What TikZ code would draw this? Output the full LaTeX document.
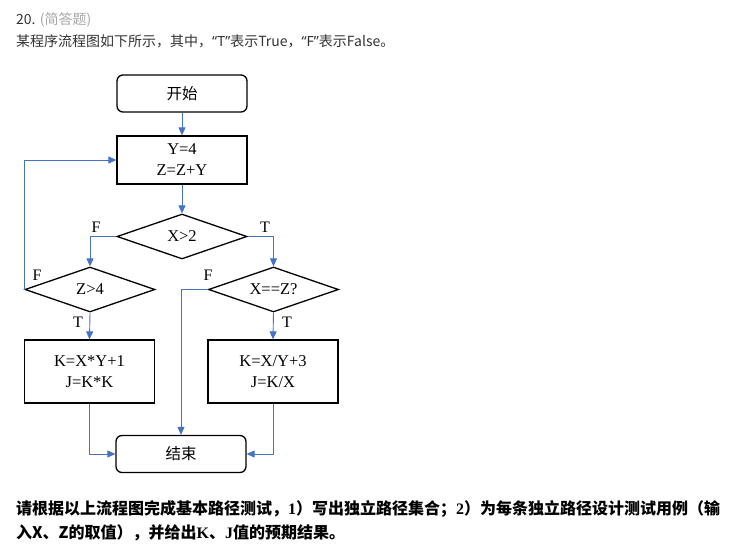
\documentclass[tikz,border=0pt]{standalone}
\usepackage{fontspec}
\setmainfont{Liberation Serif}
\newfontfamily\cjk{Noto Sans CJK SC}
\newfontfamily\hsans{Noto Sans}
\usetikzlibrary{shapes.geometric,arrows.meta}
\definecolor{conncol}{HTML}{4472C4}
\definecolor{txtdark}{HTML}{333333}
\definecolor{txtgray}{HTML}{A8A8A8}
\tikzset{
  boxstyle/.style={draw=black,line width=1.3pt,minimum width=130pt,minimum height=48pt,inner sep=0pt,align=center,font=\fontsize{16.5}{21}\selectfont},
  termstyle/.style={draw=black,line width=1.3pt,rounded corners=6pt,minimum width=130pt,minimum height=37pt,inner sep=0pt,font=\cjk\fontsize{15.5}{18}\selectfont},
  decstyle/.style={draw=black,line width=1.3pt,diamond,aspect=2.9,minimum width=130pt,minimum height=45pt,inner sep=0pt,font=\fontsize{16.5}{18}\selectfont},
  conn/.style={draw=conncol,line width=0.9pt,-{Triangle[length=8pt,width=7pt]}},
  lbl/.style={font=\fontsize{16}{18}\selectfont,inner sep=0pt}
}
\begin{document}
\begin{tikzpicture}[x=1pt,y=-1pt]
\useasboundingbox[fill=white] (0,0) rectangle (732,549);
% header
\node[anchor=west,inner sep=0pt,font=\cjk\fontsize{14}{16}\selectfont] (hnum) at (16,19.5) {\textcolor{txtdark}{20.} \textcolor{txtgray}{(简答题)}};
\node[anchor=west,inner sep=0pt,font=\cjk\fontsize{14}{16}\selectfont,text=txtdark] (hline) at (16,41) {某程序流程图如下所示，其中，{\hsans “T”}表示True，{\hsans “F”}表示False。};
% flowchart
\node[termstyle] (start) at (182,93.5) {开始};
\node[boxstyle] (init) at (182,160) {Y=4\\Z=Z+Y};
\node[decstyle] (dx) at (182,236.5) {X>2};
\node[decstyle] (dz) at (90,289.5) {Z>4};
\node[decstyle] (dxz) at (273.5,289.5) {X==Z?};
\node[boxstyle,minimum height=63pt] (bl) at (89.5,371.5) {K=X*Y+1\\J=K*K};
\node[boxstyle,minimum height=63pt] (br) at (273,371.5) {K=X/Y+3\\J=K/X};
\node[termstyle] (stop) at (181,454) {结束};
\draw[conn] (start) -- (init);
\draw[conn] (init) -- (dx);
\draw[conn] (dx.west) -| (dz.north);
\draw[conn] (dx.east) -| (dxz.north);
\draw[conn] (dz.west) |- (init.west);
\draw[conn] (dz.south) -- (bl.north);
\draw[conn] (dxz.south) -- (br.north);
\draw[conn] (dxz.west) -| (stop.north);
\draw[conn] (bl.south) |- (stop.west);
\draw[conn] (br.south) |- (stop.east);
\node[lbl] (f1) at (96,227) {F};
\node[lbl] (t1) at (265,227) {T};
\node[lbl] (f2) at (37,275) {F};
\node[lbl] (f3) at (208,275) {F};
\node[lbl] (t2) at (78,322) {T};
\node[lbl] (t3) at (287,322) {T};
% question
\node[anchor=west,inner sep=0pt,font=\cjk\bfseries\fontsize{16}{20}\selectfont,text=black] (q1) at (16,509) {请根据以上流程图完成基本路径测试，{\rmfamily\bfseries 1}）写出独立路径集合；{\rmfamily\bfseries 2}）为每条独立路径设计测试用例（输};
\node[anchor=west,inner sep=0pt,font=\cjk\bfseries\fontsize{16}{20}\selectfont,text=black] (q2) at (16,533) {入X、Z的取值），并给出{\rmfamily\bfseries K}、{\rmfamily\bfseries J}值的预期结果。};
\end{tikzpicture}
\end{document}
